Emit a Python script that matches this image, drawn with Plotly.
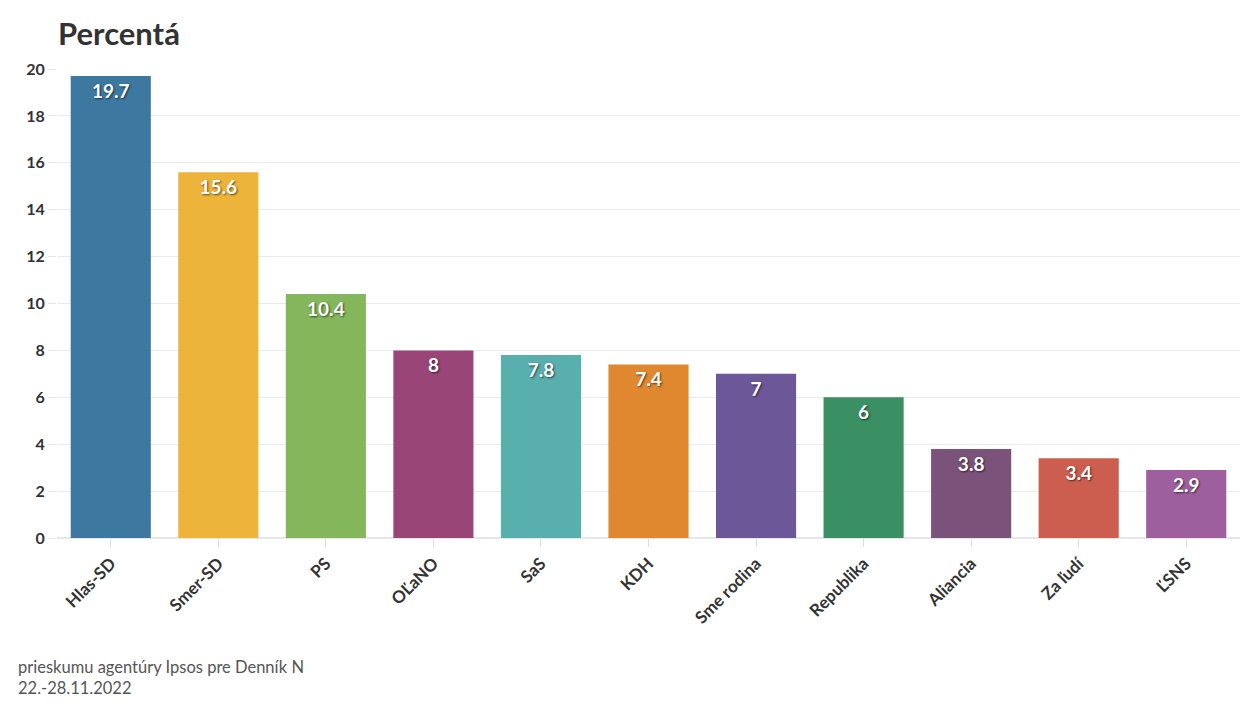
import plotly.graph_objects as go

parties = ["Hlas-SD", "Smer-SD", "PS", "OĽaNO", "SaS", "KDH", "Sme rodina",
           "Republika", "Aliancia", "Za ľudí", "ĽSNS"]
values = [19.7, 15.6, 10.4, 8, 7.8, 7.4, 7, 6, 3.8, 3.4, 2.9]
colors = ["#3c78a0", "#ecb43a", "#84b65c", "#9a4577", "#58afae", "#e0882f",
          "#6c5898", "#3a9063", "#7b527a", "#cc5e50", "#9e5f9f"]
y_ticks = [0, 2, 4, 6, 8, 10, 12, 14, 16, 18, 20]

FONT = "Lato"
W, H = 1242, 699  # page has an 8px body margin
L, R, T, B = 49, 10, 61, 169
PW = W - L - R
PH = H - T - B

fig = go.Figure(go.Bar(
    x=parties, y=values,
    marker=dict(color=colors, line=dict(width=0)),
    text=[f"{v:g}" for v in values],
    textposition="inside", insidetextanchor="end",
    textangle=0,
    textfont=dict(family=FONT, size=19, color="white", weight="bold",
                  shadow="1px 1px 2px rgba(0,0,0,0.6)"),
    hoverinfo="x+y",
))

fig.update_layout(
    width=W, height=H,
    paper_bgcolor="white", plot_bgcolor="white",
    margin=dict(l=L, r=R, t=T, b=B),
    bargap=0.255,
    showlegend=False,
    font=dict(family=FONT, color="#333333"),
    title=dict(text="<b>Percentá</b>", x=50/W, xanchor="left",
               y=1-26/H, yanchor="middle",
               font=dict(family=FONT, size=31, color="#333333")),
    xaxis=dict(
        tickangle=-45, ticks="outside", ticklen=8, tickcolor="#dddddd",
        tickfont=dict(family=FONT, size=17, color="#333333", weight="bold"),
        showline=True, linecolor="#e6e6e6", linewidth=1, showgrid=False,
    ),
    yaxis=dict(
        range=[0, 20], tickvals=y_ticks, ticks="outside", ticklen=8,
        tickcolor="#e6e6e6",
        tickfont=dict(family=FONT, size=16, color="#333333", weight="bold"),
        showgrid=True, gridcolor="#ebebeb", zeroline=True,
        zerolinecolor="#e6e6e6", showline=False,
    ),
    annotations=[
        dict(text="prieskumu agentúry Ipsos pre Denník N<br>22.-28.11.2022",
             xref="paper", yref="paper", x=(8 - L) / PW,
             xanchor="left", yanchor="top", showarrow=False, align="left",
             y=-(647 - 530) / PH,
             font=dict(family=FONT, size=16.5, color="#555555")),
    ],
)

fig.write_html("out.html")
